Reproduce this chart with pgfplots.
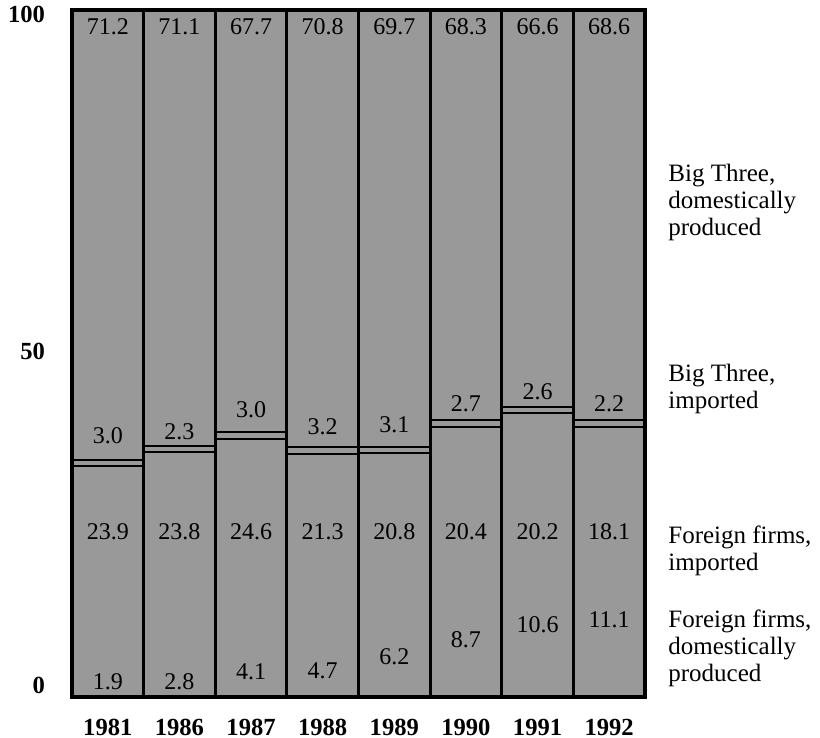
\documentclass[border=0pt]{standalone}
\usepackage{pgfplots}
\pgfplotsset{compat=1.18}
\usepackage{pgfplotstable}
\usepackage{fontspec}
\setmainfont{Liberation Serif}

% drawn heights of the segments
\pgfplotstableread{
x lower gap upper
0 33.6 0.95 65.45
1 35.6 0.95 63.45
2 37.6 0.95 61.45
3 35.4 0.95 63.65
4 35.5 0.95 63.55
5 39.3 0.95 59.75
6 41.3 0.95 57.75
7 39.3 0.95 59.75
}\bars

\definecolor{barfill}{gray}{0.6}
\tikzset{
  vallab/.style={font=\fontsize{12}{12}\selectfont, inner sep=0pt},
  serlab/.style={font=\fontsize{12.5}{13.5}\selectfont, anchor=west, align=left, inner sep=0pt, xshift=11.5pt},
}
\pgfplotsset{
  frame/.style={at={(0,0)}, anchor=south west,
    scale only axis, width=286.5pt, height=343.5pt,
    xmin=-0.5, xmax=7.5, ymin=0, ymax=100, clip=false},
}

\begin{document}
\begin{tikzpicture}
\path[use as bounding box] (-36pt,-20.5pt) rectangle (374pt,348.5pt);
\begin{axis}[
  frame,
  ybar stacked, bar width=1,
  xtick={0,1,2,3,4,5,6,7},
  xticklabels={1981,1986,1987,1988,1989,1990,1991,1992},
  ytick={1.7,50.3,99.3}, yticklabels={0,50,100},
  major tick length=0pt,
  axis line style={line width=2pt},
  extra x ticks={0.5,1.5,2.5,3.5,4.5,5.5,6.5},
  extra x tick style={grid=major, major grid style={black, line width=1.5pt}, xticklabel={}},
  axis on top,
  tick label style={font=\fontsize{12.3}{12.3}\selectfont\bfseries},
  xticklabel style={anchor=base, yshift=-19.2pt},
  yticklabel style={xshift=-10pt},
]
\addplot[fill=barfill, draw=black, line width=1pt] table[x=x, y=lower]{\bars};
\addplot[fill=barfill, draw=black, line width=1pt] table[x=x, y=gap]{\bars};
\addplot[fill=barfill, draw=black, line width=1pt] table[x=x, y=upper]{\bars};
\end{axis}
\begin{axis}[frame, hide axis]
\node[vallab] at (axis cs:0,97.5) {71.2};
\node[vallab] at (axis cs:1,97.5) {71.1};
\node[vallab] at (axis cs:2,97.5) {67.7};
\node[vallab] at (axis cs:3,97.5) {70.8};
\node[vallab] at (axis cs:4,97.5) {69.7};
\node[vallab] at (axis cs:5,97.5) {68.3};
\node[vallab] at (axis cs:6,97.5) {66.6};
\node[vallab] at (axis cs:7,97.5) {68.6};
\node[vallab] at (axis cs:0,38.1) {3.0};
\node[vallab] at (axis cs:1,38.6) {2.3};
\node[vallab] at (axis cs:2,41.8) {3.0};
\node[vallab] at (axis cs:3,39.3) {3.2};
\node[vallab] at (axis cs:4,39.6) {3.1};
\node[vallab] at (axis cs:5,42.7) {2.7};
\node[vallab] at (axis cs:6,44.4) {2.6};
\node[vallab] at (axis cs:7,42.7) {2.2};
\node[vallab] at (axis cs:0,24.0) {23.9};
\node[vallab] at (axis cs:1,24.0) {23.8};
\node[vallab] at (axis cs:2,24.0) {24.6};
\node[vallab] at (axis cs:3,24.0) {21.3};
\node[vallab] at (axis cs:4,24.0) {20.8};
\node[vallab] at (axis cs:5,24.0) {20.4};
\node[vallab] at (axis cs:6,24.0) {20.2};
\node[vallab] at (axis cs:7,24.0) {18.1};
\node[vallab] at (axis cs:0,2.2) {1.9};
\node[vallab] at (axis cs:1,2.2) {2.8};
\node[vallab] at (axis cs:2,3.7) {4.1};
\node[vallab] at (axis cs:3,3.8) {4.7};
\node[vallab] at (axis cs:4,5.8) {6.2};
\node[vallab] at (axis cs:5,8.3) {8.7};
\node[vallab] at (axis cs:6,10.5) {10.6};
\node[vallab] at (axis cs:7,11.2) {11.1};

\node[serlab] at (axis cs:7.5,72.0) {Big Three,\\domestically\\produced};
\node[serlab] at (axis cs:7.5,44.8) {Big Three,\\imported};
\node[serlab] at (axis cs:7.5,21.2) {Foreign firms,\\imported};
\node[serlab] at (axis cs:7.5,7.1) {Foreign firms,\\domestically\\produced};
\end{axis}
\end{tikzpicture}
\end{document}
